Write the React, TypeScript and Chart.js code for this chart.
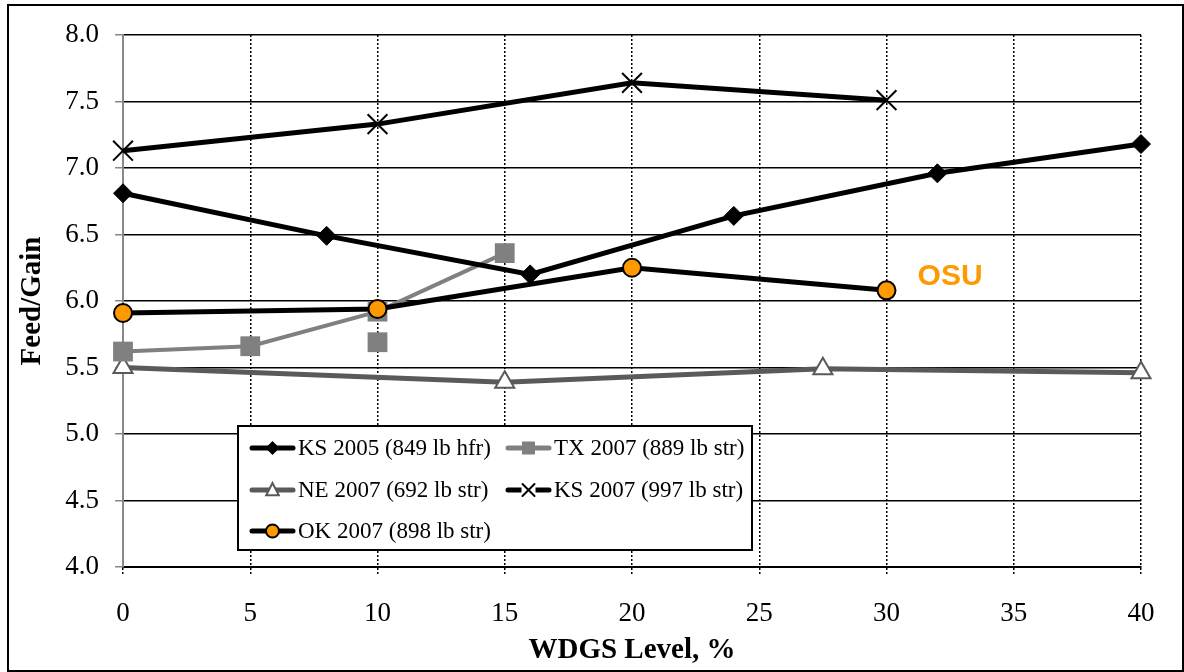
import React, { useEffect, useRef } from 'react';
import { Chart, registerables } from 'chart.js';

Chart.register(...registerables);

// ---- data ----
const xKS05 = [0, 8, 16, 24, 32, 40];
const yKS05 = [6.81, 6.49, 6.2, 6.64, 6.96, 7.18];

const xTX07 = [0, 5, 10, 15];
const yTX07 = [5.62, 5.66, 5.92, 6.36];
const xTX07extra = [10];
const yTX07extra = [5.69];

const xNE07 = [0, 15, 27.5, 40];
const yNE07 = [5.5, 5.39, 5.49, 5.46];

const xKS07 = [0, 10, 20, 30];
const yKS07 = [7.13, 7.33, 7.64, 7.51];

const xOK07 = [0, 10, 20, 30];
const yOK07 = [5.91, 5.94, 6.25, 6.08];

const seriesLabels = [
  'KS 2005 (849 lb hfr)',
  'TX 2007 (889 lb str)',
  'NE 2007 (692 lb str)',
  'KS 2007 (997 lb str)',
  'OK 2007 (898 lb str)',
];

const xTitle = 'WDGS Level, %';
const yTitle = 'Feed/Gain';
const noteText = 'OSU';
const notePos = { x: 32.5, y: 6.18 };

const SERIF = "'Liberation Serif', 'Times New Roman', serif";
const ORANGE = '#FF9900';

const zip = (xs: number[], ys: number[]) => xs.map((x, i) => ({ x, y: ys[i] }));

type MStyle = 'diamond' | 'square' | 'triangle' | 'x' | 'circle';

function drawMarker(
  ctx: CanvasRenderingContext2D,
  style: MStyle,
  x: number,
  y: number,
  r: number,
  fill: string,
  stroke: string,
  bw: number
) {
  ctx.save();
  ctx.beginPath();
  if (style === 'diamond') {
    ctx.moveTo(x, y - r);
    ctx.lineTo(x + r, y);
    ctx.lineTo(x, y + r);
    ctx.lineTo(x - r, y);
    ctx.closePath();
    ctx.fillStyle = fill;
    ctx.fill();
  } else if (style === 'square') {
    ctx.rect(x - r, y - r, 2 * r, 2 * r);
    ctx.fillStyle = fill;
    ctx.fill();
  } else if (style === 'triangle') {
    ctx.moveTo(x, y - r);
    ctx.lineTo(x + r * 0.9, y + r * 0.75);
    ctx.lineTo(x - r * 0.9, y + r * 0.75);
    ctx.closePath();
    ctx.fillStyle = fill;
    ctx.fill();
    ctx.lineWidth = bw;
    ctx.strokeStyle = stroke;
    ctx.stroke();
  } else if (style === 'x') {
    ctx.fillStyle = '#fff';
    ctx.fillRect(x - r - 1, y - r - 1, 2 * r + 2, 2 * r + 2);
    ctx.beginPath();
    ctx.moveTo(x - r, y - r);
    ctx.lineTo(x + r, y + r);
    ctx.moveTo(x + r, y - r);
    ctx.lineTo(x - r, y + r);
    ctx.lineWidth = bw;
    ctx.strokeStyle = stroke;
    ctx.stroke();
  } else if (style === 'circle') {
    ctx.arc(x, y, r, 0, Math.PI * 2);
    ctx.fillStyle = fill;
    ctx.fill();
    ctx.lineWidth = bw;
    ctx.strokeStyle = stroke;
    ctx.stroke();
  }
  ctx.restore();
}

const legendSpec: { label: string; color: string; lw: number; m: MStyle; mfill: string; mstroke: string; mr: number; col: number; row: number }[] = [
  { label: seriesLabels[0], color: '#000', lw: 5, m: 'diamond', mfill: '#000', mstroke: '#000', mr: 7, col: 0, row: 0 },
  { label: seriesLabels[1], color: '#808080', lw: 5, m: 'square', mfill: '#808080', mstroke: '#808080', mr: 6.5, col: 1, row: 0 },
  { label: seriesLabels[2], color: '#5a5a5a', lw: 5, m: 'triangle', mfill: '#fff', mstroke: '#5a5a5a', mr: 7, col: 0, row: 1 },
  { label: seriesLabels[3], color: '#000', lw: 5, m: 'x', mfill: '#000', mstroke: '#000', mr: 6, col: 1, row: 1 },
  { label: seriesLabels[4], color: '#000', lw: 5, m: 'circle', mfill: ORANGE, mstroke: '#000', mr: 6.5, col: 0, row: 2 },
];

const overlayPlugin = {
  id: 'overlay',
  afterDatasetsDraw(chart: any) {
    const { ctx, chartArea, scales } = chart;
    const L = chartArea.left;
    const T = chartArea.top;
    // legend box
    const bx = L + 115;
    const by = T + 391;
    const bw = 514;
    const bh = 124;
    ctx.save();
    ctx.fillStyle = '#fff';
    ctx.fillRect(bx, by, bw, bh);
    ctx.lineWidth = 2;
    ctx.strokeStyle = '#000';
    ctx.strokeRect(bx, by, bw, bh);
    const colX = [bx + 14, bx + 270];
    const rowY = [by + 22, by + 64, by + 105];
    ctx.font = `23px ${SERIF}`;
    ctx.textBaseline = 'middle';
    ctx.textAlign = 'left';
    legendSpec.forEach((it) => {
      const x0 = colX[it.col];
      const y0 = rowY[it.row];
      ctx.beginPath();
      ctx.moveTo(x0, y0);
      ctx.lineTo(x0 + 41, y0);
      ctx.lineWidth = it.lw;
      ctx.strokeStyle = it.color;
      ctx.lineCap = 'round';
      ctx.stroke();
      drawMarker(ctx, it.m, x0 + 20.5, y0, it.mr, it.mfill, it.mstroke, 2);
      ctx.fillStyle = '#000';
      ctx.fillText(it.label, x0 + 46, y0 + 1);
    });
    // OSU note
    const px = scales.x.getPixelForValue(notePos.x);
    const py = scales.y.getPixelForValue(notePos.y);
    ctx.font = `bold 30px 'Liberation Sans', Arial, sans-serif`;
    ctx.fillStyle = ORANGE;
    ctx.textAlign = 'center';
    ctx.fillText(noteText, px, py);
    ctx.restore();
  },
};

export default function App() {
  const ref = useRef<HTMLCanvasElement>(null);

  useEffect(() => {
    if (!ref.current) return;
    const chart = new Chart(ref.current, {
      type: 'line',
      data: {
        datasets: [
          {
            label: seriesLabels[4],
            data: zip(xOK07, yOK07),
            borderColor: '#000',
            borderWidth: 5,
            pointStyle: 'circle',
            pointRadius: 9,
            pointBackgroundColor: ORANGE,
            pointBorderColor: '#000',
            pointBorderWidth: 2,
            order: 0,
            clip: false,
          } as any,
          {
            label: seriesLabels[0],
            data: zip(xKS05, yKS05),
            borderColor: '#000',
            borderWidth: 5,
            pointStyle: 'rectRot',
            pointRadius: 9.5,
            pointBackgroundColor: '#000',
            pointBorderColor: '#000',
            pointBorderWidth: 1,
            order: 1,
            clip: false,
          },
          {
            label: seriesLabels[1],
            data: zip(xTX07, yTX07),
            borderColor: '#808080',
            borderWidth: 4,
            pointStyle: 'rect',
            pointRadius: 14,
            pointBackgroundColor: '#808080',
            pointBorderColor: '#808080',
            pointBorderWidth: 0,
            order: 2,
            clip: false,
          },
          {
            label: 'TX extra',
            data: zip(xTX07extra, yTX07extra),
            showLine: false,
            borderColor: '#808080',
            pointStyle: 'rect',
            pointRadius: 14,
            pointBackgroundColor: '#808080',
            pointBorderColor: '#808080',
            pointBorderWidth: 0,
            order: 2,
            clip: false,
          },
          {
            label: seriesLabels[2],
            data: zip(xNE07, yNE07),
            borderColor: '#5a5a5a',
            borderWidth: 5,
            pointStyle: 'triangle',
            pointRadius: 11,
            pointBackgroundColor: '#fff',
            pointBorderColor: '#5a5a5a',
            pointBorderWidth: 2,
            order: 3,
            clip: false,
          },
          {
            label: seriesLabels[3],
            data: zip(xKS07, yKS07),
            borderColor: '#000',
            borderWidth: 5,
            pointStyle: 'crossRot',
            pointRadius: 14,
            pointBackgroundColor: '#000',
            pointBorderColor: '#000',
            pointBorderWidth: 2,
            order: 4,
            clip: false,
          },
        ],
      },
      options: {
        animation: false,
        responsive: false,
        maintainAspectRatio: false,
        devicePixelRatio: 1,
        layout: { padding: { left: 0, right: 43, top: 35, bottom: 0 } },
        plugins: {
          legend: { display: false },
          tooltip: { enabled: false },
        },
        elements: { line: { tension: 0 } },
        scales: {
          x: {
            type: 'linear',
            min: 0,
            max: 40,
            ticks: {
              stepSize: 5,
              color: '#000',
              font: { family: SERIF, size: 27 },
              padding: 23,
            },
            grid: {
              color: '#000',
              lineWidth: 1.5,
              tickColor: '#000',
              tickLength: 8,
              tickBorderDash: [2, 2],
            },
            border: { display: true, color: '#000', width: 2, dash: [2, 2] },
            title: {
              display: true,
              text: xTitle,
              color: '#000',
              font: { family: SERIF, size: 29, weight: 'bold' },
              padding: { top: 0, bottom: 4 },
            },
            afterFit: (s: any) => {
              s.height = 105;
            },
          },
          y: {
            type: 'linear',
            min: 4,
            max: 8,
            ticks: {
              stepSize: 0.5,
              color: '#000',
              font: { family: SERIF, size: 27 },
              padding: 16,
              callback: (v: any) => Number(v).toFixed(1),
            },
            grid: {
              color: '#000',
              lineWidth: 1.5,
              tickColor: '#888',
              tickLength: 8,
            },
            border: { display: true, color: '#888', width: 2 },
            title: {
              display: true,
              text: yTitle,
              color: '#000',
              font: { family: SERIF, size: 29, weight: 'bold' },
              padding: { top: 15, bottom: 0 },
            },
            afterFit: (s: any) => {
              s.width = 123;
            },
          },
        },
      } as any,
      plugins: [overlayPlugin],
    });
    return () => chart.destroy();
  }, []);

  return (
    <div style={{ position: 'fixed', left: 0, top: 0, width: 1184, height: 672, background: '#fff' }}>
      <canvas ref={ref} width={1184} height={672} style={{ position: 'absolute', left: 0, top: 0, width: 1184, height: 672 }} />
      <div
        style={{
          position: 'absolute',
          left: 7,
          top: 4,
          width: 1177,
          height: 668,
          border: '2px solid #000',
          boxSizing: 'border-box',
          pointerEvents: 'none',
        }}
      />
    </div>
  );
}
